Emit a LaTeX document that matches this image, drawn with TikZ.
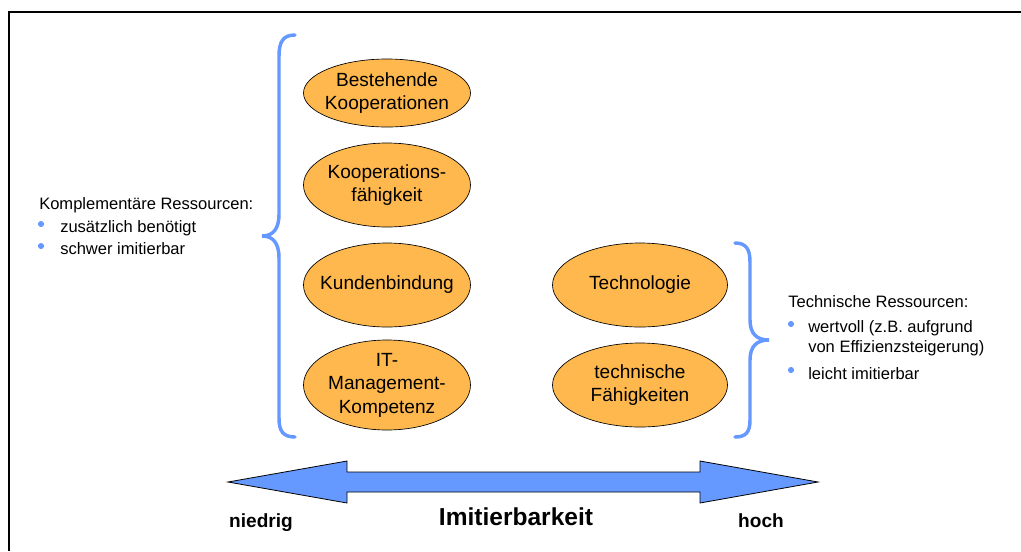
\documentclass[tikz,border=0pt]{standalone}
\usepackage{fontspec}
\setmainfont{Liberation Sans}
\usetikzlibrary{shapes.geometric}

\definecolor{bracblue}{HTML}{6699FF}
\definecolor{ressorange}{HTML}{FFB84D}

\tikzset{
  ress/.style={ellipse, draw=black, line width=0.5pt, fill=ressorange,
    inner xsep=-8pt, inner ysep=-2pt,
    minimum width=125.25pt, minimum height=63pt, align=center,
    font=\fontsize{14.3}{17.6}\selectfont},
  side/.style={anchor=base west, inner sep=0pt, font=\fontsize{12.4}{15}\selectfont},
  dot/.style={circle, fill=bracblue, inner sep=0pt, minimum size=4.6pt},
  brac/.style={draw=bracblue, line width=2.6pt, line cap=round},
  lbl/.style={anchor=base, inner sep=0pt, font=\fontsize{14.3}{17}\selectfont\bfseries}
}

\begin{document}
\begin{tikzpicture}[x=0.75pt, y=-0.75pt]
\useasboundingbox (0,0) rectangle (1021,551);
\draw[line width=1.5pt] (9,551) |- (1021,12);

% komplementaere Ressourcen
\node[ress, minimum height=51pt] (K1) at (387,93)  {Bestehende\\Kooperationen};
\node[ress] (K2) at (387,185) {Kooperations-\\fähigkeit};
\node[ress] (K3) at (387,285) {Kundenbindung};
\node[ress, minimum height=67.5pt] (K4) at (387,385) {IT-\\Management-\\Kompetenz};

% technische Ressourcen
\node[ress, minimum width=131.25pt] (T1) at (640,285) {Technologie};
\node[ress, minimum width=131.25pt] (T2) at (640,385) {technische\\Fähigkeiten};

% Klammern
\draw[brac] (295,35) .. controls (283,35) and (279,42) .. (279,56) -- (279,214)
  .. controls (279,229) and (273,236) .. (262,236)
  .. controls (273,236) and (279,243) .. (279,258) -- (279,418)
  .. controls (279,431) and (283,437) .. (295,437);
\draw[brac] (735,243) .. controls (746,243) and (750,249) .. (750,262) -- (750,320)
  .. controls (750,334) and (757,340) .. (769,340)
  .. controls (757,340) and (750,346) .. (750,360) -- (750,420)
  .. controls (750,432) and (746,437) .. (735,437);

% Texte links
\node[side] (KR) at (39,209) {Komplementäre Ressourcen:};
\node[dot] (b1) at (41,224) {};
\node[side] (KR1) at (60,232) {zusätzlich benötigt};
\node[dot] (b2) at (41,246) {};
\node[side] (KR2) at (60,254) {schwer imitierbar};

% Texte rechts
\node[side] (TR) at (788,307) {Technische Ressourcen:};
\node[dot] (b3) at (791,324) {};
\node[side, align=left, anchor=north west] (TR1) at (808,320) {wertvoll (z.B. aufgrund\\von Effizienzsteigerung)};
\node[dot] (b4) at (791,370) {};
\node[side] (TR2) at (808,379) {leicht imitierbar};

% Achse
\draw[fill=bracblue, line width=0.6pt] (228,482) -- (347,461) -- (347,472) -- (700,472) -- (700,461)
  -- (818,482) -- (700,503) -- (700,492) -- (347,492) -- (347,503) -- cycle;
\node[lbl] (lo) at (261,527) {niedrig};
\node[lbl, font=\fontsize{18.4}{22}\selectfont\bfseries] (ax) at (516,525) {Imitierbarkeit};
\node[lbl] (hi) at (761,527) {hoch};
\end{tikzpicture}
\end{document}
